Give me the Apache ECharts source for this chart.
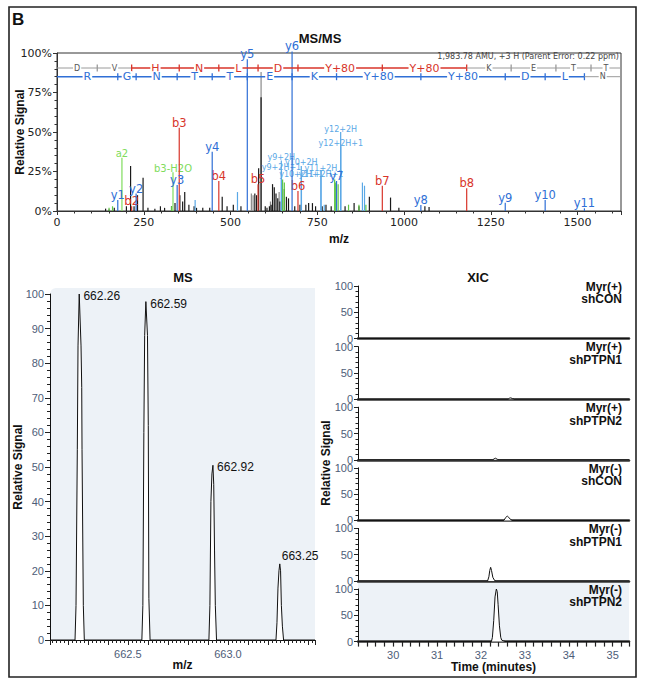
<!DOCTYPE html>
<html><head><meta charset="utf-8">
<script src="https://cdn.jsdelivr.net/npm/echarts@6/dist/echarts.min.js"></script>
<style>html,body{margin:0;padding:0;background:#fff}#c{width:645px;height:686px}</style>
</head><body><div id="c"></div>
<script>
// ================= DATA =================
// --- MS/MS panel: fragment ions (m/z, relative signal %) ---
const yIonLabels = ['y1','y2','y3','y4','y5','y6','y7','y8','y9','y10','y11'];
const yIonMz     = [175.1, 228.0, 346.2, 447.2, 548.3, 677.3, 805.4, 1048.4, 1291.5, 1406.5, 1519.6];
const yIonInt    = [7, 11, 16.5, 37.5, 96, 101, 19, 3.8, 5.3, 7, 1.7];

const bIonLabels = ['b2','b3','b4','b5','b6','b7','b8'];
const bIonMz     = [215.1, 352.2, 466.2, 579.3, 694.3, 937.3, 1180.4];
const bIonInt    = [3, 52.7, 19, 17, 12.7, 16, 14.4];

const neutralLossLabels = ['a2','b3-H2O'];
const neutralLossMz     = [187.1, 334.2];
const neutralLossInt    = [33.7, 24.5];

const multiChargeLabels = ['y12+2H','y12+2H+1','y9+2H','y10+2H','y9+2H+1','y11+2H','y10+2H+1','y11+2H+1'];
const multiChargeMz     = [817.3, 817.8, 646.3, 703.8, 646.8, 760.3, 704.3, 760.8];
const multiChargeInt    = [50, 41, 32, 28.5, 25.5, 25.3, 21.5, 21.5];

// unannotated peaks
const blackPeakMz  = [140,150,165,200,212,222,232,248,262,282,298,310,330,340,354,362,368,380,395,402,420,440,476,490,508,530,570,575,581,588,600,605,612,617,621,626,631,636,642,655,661,667,685,700,717,725,736,745,764,775,790,830,856,870,900,961,985,1060,1072];
const blackPeakInt = [1.5,1,2,3,28.5,3,10,21,2,1.5,3,2,3,5,10,6,12,4,3,2,2,2,9,3,4,3,11,10,27,72,3,2,3,4,17,15,11,8,6,14,9,8,3,4,4,5,5,3,3,4,3,3,5,3,9,8.5,2,3,2.5];
const grayPeakMz   = [588, 560, 565, 615, 640];
const grayPeakInt  = [88, 11, 10, 6, 12];
const greenPeakMz  = [150, 160, 330, 650, 655, 800, 803, 810, 840, 870, 890];
const greenPeakInt = [2, 3, 3, 20, 18, 20, 18, 17, 4, 4, 4];
const lightBluePeakMz  = [398, 520, 770, 880, 886];
const lightBluePeakInt = [7, 12, 4, 18, 16];

// sequence ladders (break points in m/z)
const bRowBreaks  = [0, 116.0, 215.1, 352.2, 466.2, 579.3, 694.3, 937.3, 1180.4, 1308.5, 1437.5, 1538.6, 1625];
const bRowLetters = ['D','V','H','N','L','D','Y+80','Y+80','K','E','T','T'];
const bRowColored = [0,0,1,1,1,1,1,1,0,0,0,0];
const yRowBreaks  = [0, 175.1, 228.0, 346.2, 447.2, 548.3, 677.3, 805.4, 1048.4, 1291.5, 1406.5, 1519.6, 1625];
const yRowLetters = ['R','G','N','T','T','E','K','Y+80','Y+80','D','L','N'];
const yRowColored = [1,1,1,1,1,1,1,1,1,1,1,0];
const bRowLevel = 90.5, yRowLevel = 85;   // % position of the ladders

// --- MS panel: isotope envelope profile ---
const msMz  = [662.111,662.236,662.241,662.2475,662.251,662.257,662.259,662.266,662.2695,662.271,662.2775,662.2825,
               662.570,662.575,662.580,662.584,662.590,662.593,662.598,662.602,662.605,662.611,
               662.905,662.910,662.915,662.920,662.925,662.929,662.933,662.937,662.943,
               663.240,663.245,663.250,663.255,663.259,663.263,663.267,663.272,663.278,663.435];
const msInt = [0,0,10,55,85,100,100,85,73,55,10,0,
               0,10,60,88,97.8,97.8,88,62,12,0,
               0,10,40,48,50.5,45,26,10,0,
               0,5,15,20,22,20,10,4,0,0];
const msPeakMz     = [662.258, 662.592, 662.926, 663.259];
const msPeakInt    = [100, 97.8, 50.5, 22];
const msPeakLabels = ['662.26','662.59','662.92','663.25'];

// --- XIC panel: six extracted ion chromatograms (time min, relative signal) ---
const xicConditions = [['Myr(+)','shCON'],['Myr(+)','shPTPN1'],['Myr(+)','shPTPN2'],
                       ['Myr(-)','shCON'],['Myr(-)','shPTPN1'],['Myr(-)','shPTPN2']];
const xicTimes = [
  [29.2, 35.37],
  [29.2, 32.62, 32.65, 32.68, 32.72, 32.76, 35.37],
  [29.2, 32.27, 32.30, 32.33, 32.37, 32.41, 35.37],
  [29.2, 32.52, 32.56, 32.60, 32.63, 32.67, 32.71, 35.37],
  [29.2, 32.15, 32.18, 32.20, 32.22, 32.24, 32.27, 32.31, 32.35, 35.37],
  [29.2, 32.237, 32.26, 32.29, 32.32, 32.35, 32.37, 32.39, 32.42, 32.45, 32.47, 32.52, 32.57, 35.37]
];
const xicSignal = [
  [0, 0],
  [0, 0, 2, 2.5, 1, 0, 0],
  [0, 0, 2, 3, 1, 0, 0],
  [0, 0, 5, 8.4, 6, 2, 0, 0],
  [0, 0, 8, 20, 26, 20, 7, 1, 0, 0],
  [0, 0, 8, 40, 85, 100, 95, 70, 30, 8, 3, 1, 0, 0]
];

// ================= CHART =================
const chart = echarts.init(document.getElementById('c'), null, {renderer: 'svg'});
const SANS = 'Liberation Sans';
const VERD = 'DejaVu Sans';
const AXC = '#4e5d78';
const C_BLUE = '#2f6fd6', C_RED = '#d8352a', C_GREEN = '#7fdc5c', C_LBLUE = '#5aa8e6';

function stickSeries(mz, inten, color, opts) {
  opts = opts || {};
  return {
    type: 'custom', xAxisIndex: 0, yAxisIndex: 0, clip: false, z: opts.z || 3,
    data: mz.map((m, i) => [m, inten[i]]),
    encode: {x: 0, y: 1},
    silent: true,
    renderItem: function (params, api) {
      const x = api.value(0), h = api.value(1);
      const p0 = api.coord([x, 0]), p1 = api.coord([x, h]);
      const ch = [{type: 'line', shape: {x1: p0[0], y1: p0[1], x2: p1[0], y2: p1[1]},
                   style: {stroke: color, lineWidth: opts.lw || 1.2}}];
      const lab = opts.labels && opts.labels[params.dataIndex];
      if (lab) ch.push({type: 'text', x: p1[0], y: p1[1] + 1,
        style: {text: lab, fill: color, fontSize: opts.fs || 11.5, fontFamily: VERD,
                align: 'center', verticalAlign: 'bottom'}});
      return {type: 'group', children: ch};
    }
  };
}

function ladderSeries(breaks, letters, colored, level, color) {
  return {
    type: 'custom', xAxisIndex: 0, yAxisIndex: 0, clip: false, z: 5, silent: true,
    data: letters.map((l, i) => [breaks[i], breaks[i + 1], level, colored[i]]),
    encode: {x: [0, 1], y: 2},
    renderItem: function (params, api) {
      const i = params.dataIndex;
      const a = api.coord([api.value(0), api.value(2)]);
      const b = api.coord([api.value(1), api.value(2)]);
      const on = api.value(3) === 1;
      const col = on ? color : '#9a9a9a';
      const ch = [{type: 'line', shape: {x1: a[0], y1: a[1], x2: b[0], y2: b[1]},
                   style: {stroke: col, lineWidth: on ? 1.6 : 1}}];
      ch.push({type: 'text', x: (a[0] + b[0]) / 2, y: a[1],
        style: {text: letters[i], fill: on ? color : '#555', backgroundColor: '#fff', padding: [0, 1],
                fontSize: on ? 11 : 8, fontFamily: VERD, align: 'center', verticalAlign: 'middle'}});
      if (i < letters.length - 1) {
        const sc = (colored[i] || colored[i + 1]) ? color : '#9a9a9a';
        ch.push({type: 'line', shape: {x1: b[0], y1: b[1] - 3.5, x2: b[0], y2: b[1] + 3.5},
                 style: {stroke: sc, lineWidth: 1.3}});
      }
      return {type: 'group', children: ch};
    }
  };
}

const grids = [
  {left: 57, top: 53, width: 564, height: 158, show: true, borderColor: '#333', borderWidth: 1,
   backgroundColor: 'transparent', containLabel: false, outerBoundsMode: 'none'},
  {left: 50, top: 294, width: 265, height: 346, containLabel: false, outerBoundsMode: 'none'}
];
const xicTop0 = 286, xicPitch = 60.6, xicH = 52.6;
for (let i = 0; i < 6; i++) grids.push({left: 358, top: xicTop0 + xicPitch * i, width: 271, height: xicH,
  containLabel: false, outerBoundsMode: 'none'});

const nameStyle = {fontSize: 12, fontWeight: 'bold', fontFamily: SANS, color: '#111'};
const xAxes = [
  {type: 'value', gridIndex: 0, min: 0, max: 1625, interval: 250,
   axisLine: {show: true, lineStyle: {color: '#333'}},
   axisTick: {show: true, length: 4, lineStyle: {color: '#333'}},
   minorTick: {show: true, splitNumber: 5, length: 2.5, lineStyle: {color: '#333'}},
   splitLine: {show: false},
   axisLabel: {fontSize: 11, fontFamily: VERD, color: '#222', margin: 6,
               formatter: v => (v % 250 === 0 ? String(v) : '')},
   name: 'm/z', nameLocation: 'middle', nameGap: 22, nameMoveOverlap: false, nameTextStyle: nameStyle},
  {type: 'value', gridIndex: 1, min: 662.111, max: 663.435, minInterval: 0.1, maxInterval: 0.1,
   axisLine: {show: true, lineStyle: {color: '#111', width: 1.2}},
   axisTick: {show: true, length: 5, lineStyle: {color: '#222'}},
   minorTick: {show: true, splitNumber: 5, length: 3, lineStyle: {color: '#222'}},
   splitLine: {show: false},
   axisLabel: {fontSize: 11, fontFamily: SANS, color: AXC, margin: 8,
               formatter: v => (Math.abs(v * 2 - Math.round(v * 2)) < 1e-6 ? v.toFixed(1) : '')},
   name: 'm/z', nameLocation: 'middle', nameGap: 19, nameMoveOverlap: false, nameTextStyle: nameStyle}
];
const yAxes = [
  {type: 'value', gridIndex: 0, min: 0, max: 100, interval: 25,
   axisLine: {show: true, lineStyle: {color: '#333'}},
   axisTick: {show: true, length: 4, lineStyle: {color: '#333'}},
   minorTick: {show: true, splitNumber: 5, length: 2.5, lineStyle: {color: '#333'}},
   splitLine: {show: false},
   axisLabel: {fontSize: 11, fontFamily: VERD, color: '#222', margin: 5, formatter: '{value}%'},
   name: 'Relative Signal', nameLocation: 'middle', nameGap: 31, nameMoveOverlap: false, nameTextStyle: nameStyle},
  {type: 'value', gridIndex: 1, min: 0, max: 100, interval: 10,
   axisLine: {show: true, lineStyle: {color: '#111'}},
   axisTick: {show: true, length: 5, lineStyle: {color: '#222'}},
   minorTick: {show: true, splitNumber: 5, length: 3, lineStyle: {color: '#222'}},
   splitLine: {show: false},
   axisLabel: {fontSize: 11, fontFamily: SANS, color: AXC, margin: 6},
   name: 'Relative Signal', nameLocation: 'middle', nameGap: 26, nameMoveOverlap: false, nameTextStyle: nameStyle}
];
for (let i = 0; i < 6; i++) {
  const last = i === 5;
  xAxes.push({type: 'value', gridIndex: 2 + i, min: 29.2, max: 35.37, interval: 0.2,
    axisLine: {show: true, lineStyle: {color: '#333', width: 2.5}},
    axisTick: {show: last, length: 5, lineStyle: {color: '#222', width: 1.2}},
    splitLine: {show: false},
    axisLabel: {show: last, fontSize: 11, fontFamily: SANS, color: AXC, margin: 8,
                formatter: v => (Math.abs(v - Math.round(v)) < 1e-6 ? String(Math.round(v)) : '')},
    name: last ? 'Time (minutes)' : '', nameLocation: 'middle', nameGap: 19, nameMoveOverlap: false,
    nameTextStyle: nameStyle});
  yAxes.push({type: 'value', gridIndex: 2 + i, min: 0, max: 100, interval: 50,
    axisLine: {show: true, lineStyle: {color: '#111'}},
    axisTick: {show: true, length: 4, lineStyle: {color: '#222'}},
    minorTick: {show: true, splitNumber: 5, length: 2.5, lineStyle: {color: '#222'}},
    splitLine: {show: false},
    axisLabel: {fontSize: 11, fontFamily: SANS, color: AXC, margin: 5}});
}

const series = [
  stickSeries(blackPeakMz, blackPeakInt, '#1a1a1a', {z: 2}),
  stickSeries(grayPeakMz, grayPeakInt, '#8a8a8a', {z: 1}),
  stickSeries(greenPeakMz, greenPeakInt, '#5fc843', {z: 2}),
  stickSeries(lightBluePeakMz, lightBluePeakInt, C_LBLUE, {z: 2}),
  stickSeries(multiChargeMz, multiChargeInt, C_LBLUE, {labels: multiChargeLabels, fs: 8, z: 3}),
  stickSeries(neutralLossMz, neutralLossInt, C_GREEN, {labels: neutralLossLabels, fs: 10, z: 3}),
  stickSeries(bIonMz, bIonInt, C_RED, {labels: bIonLabels, z: 4}),
  stickSeries(yIonMz, yIonInt, C_BLUE, {labels: yIonLabels, z: 4}),
  ladderSeries(bRowBreaks, bRowLetters, bRowColored, bRowLevel, C_RED),
  ladderSeries(yRowBreaks, yRowLetters, yRowColored, yRowLevel, C_BLUE),
  // MS profile
  {type: 'line', xAxisIndex: 1, yAxisIndex: 1, data: msMz.map((m, i) => [m, msInt[i]]),
   symbol: 'none', lineStyle: {color: '#111', width: 1}, areaStyle: {color: '#ffffff', opacity: 1}, z: 3, silent: true},
  // MS peak labels
  {type: 'custom', xAxisIndex: 1, yAxisIndex: 1, clip: false, z: 4, silent: true,
   data: msPeakMz.map((m, i) => [m, msPeakInt[i]]), encode: {x: 0, y: 1},
   renderItem: function (params, api) {
     const p = api.coord([api.value(0), api.value(1)]);
     const cs = params.coordSys;
     const txt = msPeakLabels[params.dataIndex];
     const w = 34;
     const overflow = p[0] + 4 + w > cs.x + cs.width;
     return {type: 'text', x: overflow ? p[0] + 2 : p[0] + 4, y: overflow ? p[1] - 8 : p[1] + 2,
       style: {text: txt, fill: '#111', fontSize: 12, fontFamily: SANS, align: 'left', verticalAlign: 'middle'}};
   }}
];
for (let i = 0; i < 6; i++) {
  series.push({type: 'line', xAxisIndex: 2 + i, yAxisIndex: 2 + i,
    data: xicTimes[i].map((t, j) => [t, xicSignal[i][j]]), symbol: 'none',
    lineStyle: {color: '#111', width: 1}, areaStyle: {color: '#ffffff', opacity: 1}, z: 3, silent: true});
}

const graphics = [
  {type: 'rect', z: -10, shape: {x: 50, y: 288, width: 265, height: 352, r: [6, 0, 0, 0]}, style: {fill: '#edf2f7'}},
  {type: 'rect', z: -10, shape: {x: 358, y: 582.7, width: 271, height: 58.5}, style: {fill: '#edf2f7'}},
  {type: 'rect', z: 100, shape: {x: 9, y: 7, width: 627, height: 670}, style: {fill: 'none', stroke: '#222', lineWidth: 1.6}},
  {type: 'text', x: 12, y: 11, style: {text: 'B', font: 'bold 17px ' + SANS, fill: '#111'}},
  {type: 'text', x: 320, y: 38, style: {text: 'MS/MS', font: 'bold 13px ' + SANS, fill: '#111', align: 'center', verticalAlign: 'middle'}},
  {type: 'text', x: 183, y: 277, style: {text: 'MS', font: 'bold 13px ' + SANS, fill: '#111', align: 'center', verticalAlign: 'middle'}},
  {type: 'text', x: 478, y: 277, style: {text: 'XIC', font: 'bold 13px ' + SANS, fill: '#111', align: 'center', verticalAlign: 'middle'}},
  {type: 'text', x: 619, y: 56, style: {text: '1,983.78 AMU, +3 H (Parent Error: 0.22 ppm)', font: '8px ' + VERD, fill: '#444', align: 'right', verticalAlign: 'middle'}},
  {type: 'text', x: 326, y: 463, rotation: Math.PI / 2, style: {text: 'Relative Signal', font: 'bold 12px ' + SANS, fill: '#111', align: 'center', verticalAlign: 'middle'}}
];
for (let i = 0; i < 6; i++) {
  const top = xicTop0 + xicPitch * i;
  graphics.push({type: 'text', x: 622, y: top + 0.7, style: {text: xicConditions[i][0], font: 'bold 12px ' + SANS, fill: '#111', align: 'right', verticalAlign: 'middle'}});
  graphics.push({type: 'text', x: 622, y: top + 13.3, style: {text: xicConditions[i][1], font: 'bold 12px ' + SANS, fill: '#111', align: 'right', verticalAlign: 'middle'}});
}

chart.setOption({
  animation: false,
  grid: grids, xAxis: xAxes, yAxis: yAxes, series: series, graphic: graphics
});
</script></body></html>
